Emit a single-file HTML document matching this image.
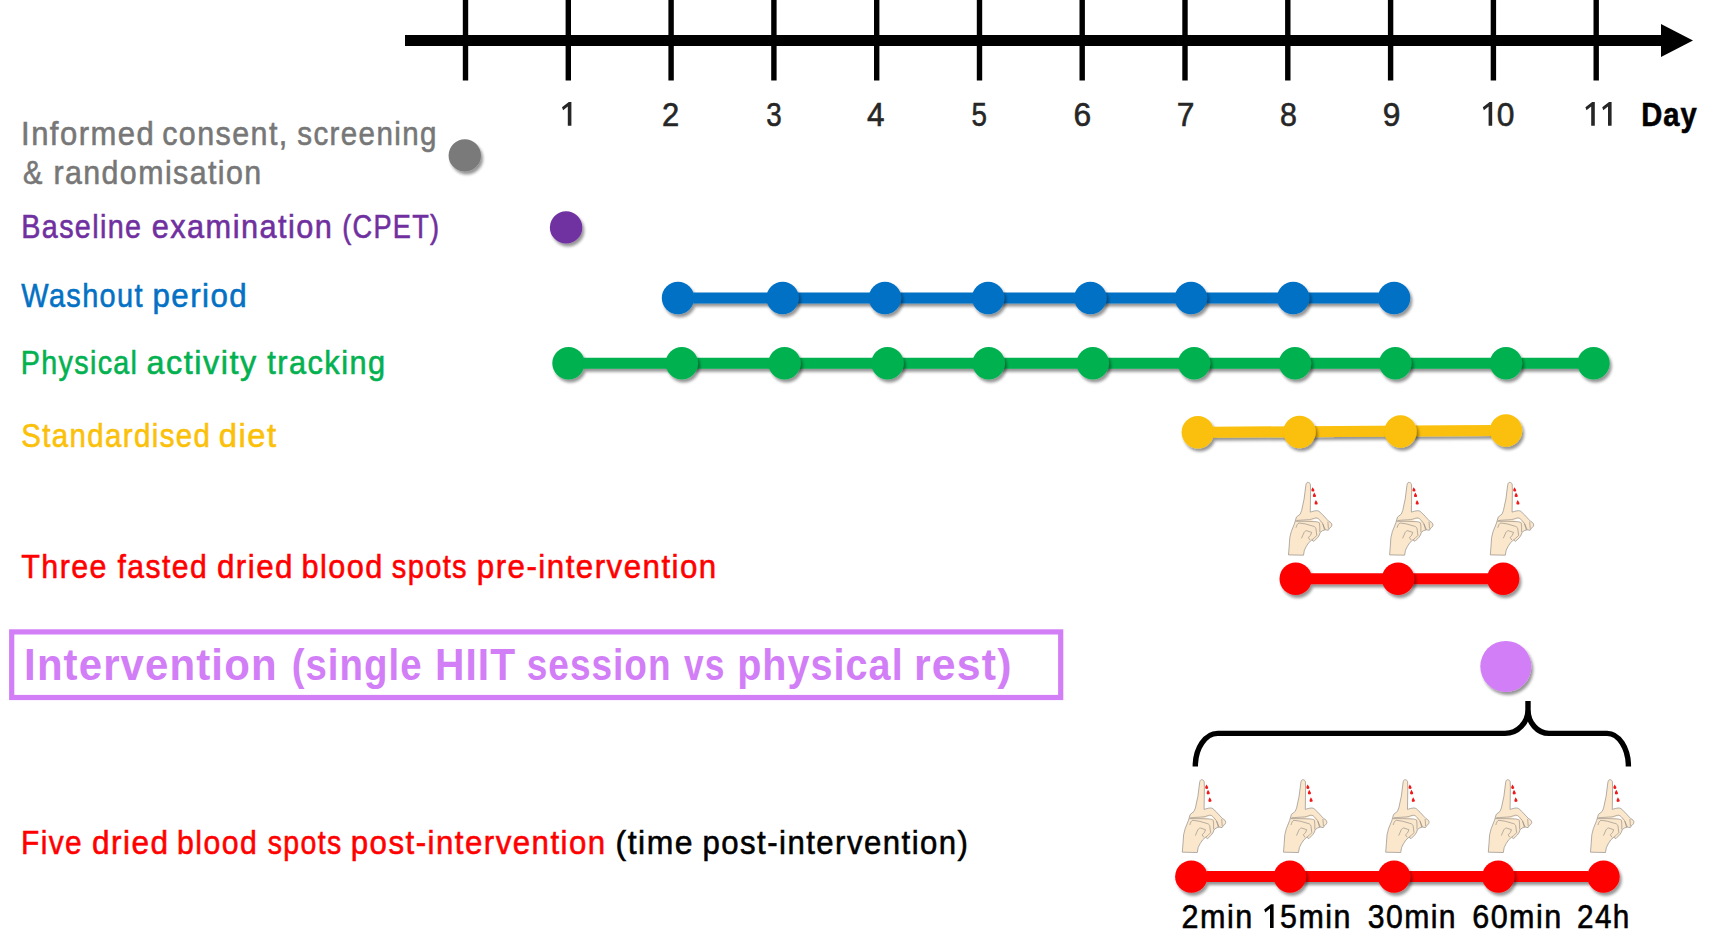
<!DOCTYPE html>
<html><head><meta charset="utf-8"><style>
html,body{margin:0;padding:0;background:#fff;}
svg{display:block;}
text{font-family:"Liberation Sans",sans-serif;}
</style></head><body>
<svg width="1713" height="940" viewBox="0 0 1713 940">
<defs>
<filter id="sh" filterUnits="userSpaceOnUse" x="0" y="0" width="1713" height="940">
<feGaussianBlur in="SourceAlpha" stdDeviation="1.4"/>
<feOffset dx="2.4" dy="2.7" result="o"/>
<feComponentTransfer><feFuncA type="linear" slope="0.42"/></feComponentTransfer>
<feMerge><feMergeNode/><feMergeNode in="SourceGraphic"/></feMerge>
</filter>
<symbol id="hand" overflow="visible">
<path d="M25.4,5.7 C26.6,5.6 27.9,6.3 28.2,7.6 L28.4,14 L28.2,28 L28.1,35.4 C29.5,35 32,34 34.6,34 C35.6,34 36.3,34.3 36.8,34.6 L40.6,38.2 L44.9,42.9 L46.6,44.6 C48.5,45.6 49.7,46.6 49.7,48.3 C49.7,49.5 48.5,51 47.4,51.4 L46.1,53.6 L43.1,53.1 L40.2,54 L38,55.7 L37.2,58.2 L35.5,60.8 L31.7,64.6 L29.5,63.3 L26.6,65.9 L24.2,69.5 L22.2,73.5 L21.3,78.5 L6.3,78.2 L7,69.3 L7.6,60.8 L9.1,54.8 L12.5,46.3 L14.2,40.4 L18,37.4 L19.4,33.9 L21.9,22.3 L23.6,8.9 C23.9,6.6 24.5,5.8 25.4,5.7 Z" fill="#fbe7cc" stroke="#8a8580" stroke-width="0.65" stroke-linejoin="round"/>
<path d="M29,43.4 C31,43 34,42 35.8,42 C36.6,42.2 37.2,43.6 37.4,45.2 L33.8,44.8 Z" fill="#fff"/>
<path d="M14.2,43.8 C18,43.4 24,43.2 27.4,42.9 C30,42.5 32.5,41.2 33.8,41.2 C35,41.2 36.5,41.8 38,43.8 L40.2,46.3 L42.3,51 L43.1,53.1 M13.4,44.6 L23.1,44.6 L33.8,45 C35.5,45.3 36.8,45.6 37.2,46.3 L37.6,50.1 L37.6,55.3 M13.8,51 C14.5,48.5 15.5,46.5 16.8,46.3 L23.1,47.2 L31.7,49.7 C33,50.3 33.6,51 33.8,52.3 L34.6,58.7 L31.7,61.6 L29.5,63.3 M19.3,61.6 L21.9,55.7 C22.5,54.8 23.5,54 24.4,54 L29.5,55.7 L28.3,58.7 L26.1,60.8 L27.8,63.3 M40.6,47.2 L42.3,53 M45.7,45 L46.2,52" fill="none" stroke="#8a8580" stroke-width="0.6" stroke-linejoin="round"/>
<path d="M30.4,10.6 L31.9,12.8 A1.45,1.45 0 1 1 29.2,13.1 Z M32,15.8 L33.5,18.2 A1.5,1.5 0 1 1 30.7,18.5 Z M33.7,23.3 L35.2,25.7 A1.5,1.5 0 1 1 32.4,26 Z" fill="#f01818"/>
</symbol>
</defs>

<rect x="405" y="35" width="1258" height="11" fill="#000"/>
<path d="M1661,24 L1693,40.5 L1661,57 Z" fill="#000"/>
<rect x="462.8" y="0" width="5.4" height="80.5" fill="#000"/>
<rect x="565.6" y="0" width="5.4" height="80.5" fill="#000"/>
<rect x="668.4" y="0" width="5.4" height="80.5" fill="#000"/>
<rect x="771.2" y="0" width="5.4" height="80.5" fill="#000"/>
<rect x="874.0" y="0" width="5.4" height="80.5" fill="#000"/>
<rect x="976.8" y="0" width="5.4" height="80.5" fill="#000"/>
<rect x="1079.5" y="0" width="5.4" height="80.5" fill="#000"/>
<rect x="1182.3" y="0" width="5.4" height="80.5" fill="#000"/>
<rect x="1285.1" y="0" width="5.4" height="80.5" fill="#000"/>
<rect x="1387.9" y="0" width="5.4" height="80.5" fill="#000"/>
<rect x="1490.7" y="0" width="5.4" height="80.5" fill="#000"/>
<rect x="1593.5" y="0" width="5.4" height="80.5" fill="#000"/>
<path d="M571.4,102.1 L571.4,125.8 L567.8,125.8 L567.8,106.4 L563.1,110.2 L562.0,107.19999999999999 L568.8,102.1 Z" fill="#262626"/>
<path d="M1492.2,102.1 L1492.2,125.8 L1488.6000000000001,125.8 L1488.6000000000001,106.4 L1483.9,110.2 L1482.8,107.19999999999999 L1489.6000000000001,102.1 Z" fill="#262626"/>
<path d="M1594.8,102.1 L1594.8,125.8 L1591.2,125.8 L1591.2,106.4 L1586.5,110.2 L1585.3999999999999,107.19999999999999 L1592.2,102.1 Z" fill="#262626"/>
<path d="M1611.6,102.1 L1611.6,125.8 L1608.0,125.8 L1608.0,106.4 L1603.3,110.2 L1602.1999999999998,107.19999999999999 L1609.0,102.1 Z" fill="#262626"/>
<path d="M1273.6,904.3 L1273.6,928 L1270.0,928 L1270.0,908.6 L1265.3,912.4 L1264.1999999999998,909.4 L1271.0,904.3 Z" fill="#000"/>
<text transform="translate(21.06,145) scale(0.9128,1)" font-size="34" letter-spacing="1.6" fill="#777777" stroke="#777777" stroke-width="0.6">Informed</text>
<text transform="translate(162.21,145) scale(0.8949,1)" font-size="34" letter-spacing="1.6" fill="#777777" stroke="#777777" stroke-width="0.6">consent,</text>
<text transform="translate(297.23,145) scale(0.8690,1)" font-size="34" letter-spacing="1.6" fill="#777777" stroke="#777777" stroke-width="0.6">screening</text>
<text transform="translate(22.95,184) scale(0.8545,1)" font-size="34" letter-spacing="1.6" fill="#777777" stroke="#777777" stroke-width="0.6">&amp;</text>
<text transform="translate(53.41,184) scale(0.8930,1)" font-size="34" letter-spacing="1.6" fill="#777777" stroke="#777777" stroke-width="0.6">randomisation</text>
<text transform="translate(21.31,237.6) scale(0.8453,1)" font-size="34" letter-spacing="1.6" fill="#7030a0" stroke="#7030a0" stroke-width="0.6">Baseline</text>
<text transform="translate(151.70,237.6) scale(0.9046,1)" font-size="34" letter-spacing="1.6" fill="#7030a0" stroke="#7030a0" stroke-width="0.6">examination</text>
<text transform="translate(342.20,237.6) scale(0.7983,1)" font-size="34" letter-spacing="1.6" fill="#7030a0" stroke="#7030a0" stroke-width="0.6">(CPET)</text>
<text transform="translate(21.30,306.9) scale(0.8510,1)" font-size="34" letter-spacing="1.6" fill="#0471c4" stroke="#0471c4" stroke-width="0.6">Washout</text>
<text transform="translate(152.46,306.9) scale(0.9202,1)" font-size="34" letter-spacing="1.6" fill="#0471c4" stroke="#0471c4" stroke-width="0.6">period</text>
<text transform="translate(20.81,373.9) scale(0.8433,1)" font-size="34" letter-spacing="1.6" fill="#04b150" stroke="#04b150" stroke-width="0.6">Physical</text>
<text transform="translate(146.55,373.9) scale(0.9518,1)" font-size="34" letter-spacing="1.6" fill="#04b150" stroke="#04b150" stroke-width="0.6">activity</text>
<text transform="translate(267.30,373.9) scale(0.9047,1)" font-size="34" letter-spacing="1.6" fill="#04b150" stroke="#04b150" stroke-width="0.6">tracking</text>
<text transform="translate(21.13,447) scale(0.8665,1)" font-size="34" letter-spacing="1.6" fill="#fbc008" stroke="#fbc008" stroke-width="0.6">Standardised</text>
<text transform="translate(218.64,447) scale(0.9644,1)" font-size="34" letter-spacing="1.6" fill="#fbc008" stroke="#fbc008" stroke-width="0.6">diet</text>
<text transform="translate(21.30,578.4) scale(0.8947,1)" font-size="34" letter-spacing="1.6" fill="#ff0000" stroke="#ff0000" stroke-width="0.6">Three</text>
<text transform="translate(117.60,578.4) scale(0.8848,1)" font-size="34" letter-spacing="1.6" fill="#ff0000" stroke="#ff0000" stroke-width="0.6">fasted</text>
<text transform="translate(216.88,578.4) scale(0.9228,1)" font-size="34" letter-spacing="1.6" fill="#ff0000" stroke="#ff0000" stroke-width="0.6">dried</text>
<text transform="translate(301.60,578.4) scale(0.9023,1)" font-size="34" letter-spacing="1.6" fill="#ff0000" stroke="#ff0000" stroke-width="0.6">blood</text>
<text transform="translate(391.75,578.4) scale(0.8547,1)" font-size="34" letter-spacing="1.6" fill="#ff0000" stroke="#ff0000" stroke-width="0.6">spots</text>
<text transform="translate(476.86,578.4) scale(0.9202,1)" font-size="34" letter-spacing="1.6" fill="#ff0000" stroke="#ff0000" stroke-width="0.6">pre-intervention</text>
<text transform="translate(24.10,679.7) scale(0.9325,1)" font-size="45" letter-spacing="1.2" fill="#d27ef7" font-weight="bold">Intervention</text>
<text transform="translate(291.69,679.7) scale(0.8530,1)" font-size="45" letter-spacing="1.2" fill="#d27ef7" font-weight="bold">(single</text>
<text transform="translate(434.99,679.7) scale(0.9047,1)" font-size="45" letter-spacing="1.2" fill="#d27ef7" font-weight="bold">HIIT</text>
<text transform="translate(526.75,679.7) scale(0.8229,1)" font-size="45" letter-spacing="1.2" fill="#d27ef7" font-weight="bold">session</text>
<text transform="translate(684.10,679.7) scale(0.7860,1)" font-size="45" letter-spacing="1.2" fill="#d27ef7" font-weight="bold">vs</text>
<text transform="translate(737.17,679.7) scale(0.8781,1)" font-size="45" letter-spacing="1.2" fill="#d27ef7" font-weight="bold">physical</text>
<text transform="translate(914.05,679.7) scale(0.9515,1)" font-size="45" letter-spacing="1.2" fill="#d27ef7" font-weight="bold">rest)</text>
<text transform="translate(21.04,854.4) scale(0.8788,1)" font-size="34" letter-spacing="1.6" fill="#ff0000" stroke="#ff0000" stroke-width="0.6">Five</text>
<text transform="translate(91.97,854.4) scale(0.9291,1)" font-size="34" letter-spacing="1.6" fill="#ff0000" stroke="#ff0000" stroke-width="0.6">dried</text>
<text transform="translate(177.12,854.4) scale(0.8895,1)" font-size="34" letter-spacing="1.6" fill="#ff0000" stroke="#ff0000" stroke-width="0.6">blood</text>
<text transform="translate(267.76,854.4) scale(0.8372,1)" font-size="34" letter-spacing="1.6" fill="#ff0000" stroke="#ff0000" stroke-width="0.6">spots</text>
<text transform="translate(350.76,854.4) scale(0.9190,1)" font-size="34" letter-spacing="1.6" fill="#ff0000" stroke="#ff0000" stroke-width="0.6">post-intervention</text>
<text transform="translate(615.62,854.4) scale(0.9392,1)" font-size="34" letter-spacing="1.6" fill="#000" stroke="#000" stroke-width="0.6">(time</text>
<text transform="translate(702.47,854.4) scale(0.9161,1)" font-size="34" letter-spacing="1.6" fill="#000" stroke="#000" stroke-width="0.6">post-intervention)</text>
<rect x="11.7" y="631.9" width="1049" height="65.6" fill="none" stroke="#d27ef7" stroke-width="5.2"/>
<circle cx="464.8" cy="155.4" r="16.2" fill="#7a7a7a" filter="url(#sh)"/>
<circle cx="566.1" cy="227.4" r="16.2" fill="#7030a0" filter="url(#sh)"/>
<circle cx="678" cy="298" r="16.2" fill="#0471c4" filter="url(#sh)"/>
<line x1="693.2" y1="298" x2="1378.8999999999999" y2="298" stroke="#0471c4" stroke-width="11" filter="url(#sh)"/>
<circle cx="782.6" cy="298" r="16.2" fill="#0471c4" filter="url(#sh)"/>
<circle cx="885" cy="298" r="16.2" fill="#0471c4" filter="url(#sh)"/>
<circle cx="988.2" cy="298" r="16.2" fill="#0471c4" filter="url(#sh)"/>
<circle cx="1090.4" cy="298" r="16.2" fill="#0471c4" filter="url(#sh)"/>
<circle cx="1191" cy="298" r="16.2" fill="#0471c4" filter="url(#sh)"/>
<circle cx="1293.2" cy="298" r="16.2" fill="#0471c4" filter="url(#sh)"/>
<circle cx="1394.1" cy="298" r="16.2" fill="#0471c4" filter="url(#sh)"/>
<circle cx="568.5" cy="363.3" r="16.2" fill="#04b150" filter="url(#sh)"/>
<line x1="583.7" y1="363.3" x2="1578.3" y2="363.3" stroke="#04b150" stroke-width="11" filter="url(#sh)"/>
<circle cx="681.8" cy="363.3" r="16.2" fill="#04b150" filter="url(#sh)"/>
<circle cx="784.5" cy="363.3" r="16.2" fill="#04b150" filter="url(#sh)"/>
<circle cx="887.5" cy="363.3" r="16.2" fill="#04b150" filter="url(#sh)"/>
<circle cx="988.7" cy="363.3" r="16.2" fill="#04b150" filter="url(#sh)"/>
<circle cx="1092.8" cy="363.3" r="16.2" fill="#04b150" filter="url(#sh)"/>
<circle cx="1194.1" cy="363.3" r="16.2" fill="#04b150" filter="url(#sh)"/>
<circle cx="1295" cy="363.3" r="16.2" fill="#04b150" filter="url(#sh)"/>
<circle cx="1395.3" cy="363.3" r="16.2" fill="#04b150" filter="url(#sh)"/>
<circle cx="1506" cy="363.3" r="16.2" fill="#04b150" filter="url(#sh)"/>
<circle cx="1593.5" cy="363.3" r="16.2" fill="#04b150" filter="url(#sh)"/>
<circle cx="1197.8" cy="432.2" r="16.2" fill="#fbc008" filter="url(#sh)"/>
<line x1="1213.0" y1="432.2" x2="1490.8" y2="430.5" stroke="#fbc008" stroke-width="11" filter="url(#sh)"/>
<circle cx="1299.5" cy="432" r="16.2" fill="#fbc008" filter="url(#sh)"/>
<circle cx="1400.5" cy="431.5" r="16.2" fill="#fbc008" filter="url(#sh)"/>
<circle cx="1506" cy="430.5" r="16.2" fill="#fbc008" filter="url(#sh)"/>
<circle cx="1295.7" cy="578.7" r="16.2" fill="#ff0000" filter="url(#sh)"/>
<line x1="1310.9" y1="578.7" x2="1488.0" y2="578.7" stroke="#ff0000" stroke-width="11" filter="url(#sh)"/>
<circle cx="1398.1" cy="578.7" r="16.2" fill="#ff0000" filter="url(#sh)"/>
<circle cx="1503.2" cy="578.7" r="16.2" fill="#ff0000" filter="url(#sh)"/>
<circle cx="1191.3" cy="876.6" r="16.2" fill="#ff0000" filter="url(#sh)"/>
<line x1="1206.5" y1="876.6" x2="1588.3" y2="876.6" stroke="#ff0000" stroke-width="11" filter="url(#sh)"/>
<circle cx="1289.9" cy="876.6" r="16.2" fill="#ff0000" filter="url(#sh)"/>
<circle cx="1394.1" cy="876.6" r="16.2" fill="#ff0000" filter="url(#sh)"/>
<circle cx="1498.3" cy="876.6" r="16.2" fill="#ff0000" filter="url(#sh)"/>
<circle cx="1603.5" cy="876.6" r="16.2" fill="#ff0000" filter="url(#sh)"/>
<circle cx="1505.8" cy="666.4" r="25.5" fill="#d27ef7" filter="url(#sh)"/>
<path d="M1195.3,766.4 A22.4,33 0 0 1 1217.7,733.4 L1505,733.4 A23,24 0 0 0 1528,709.4 L1528,701 M1528,709.4 A21,24 0 0 0 1549,733.4 L1607,733.4 A21.4,33 0 0 1 1628.4,766.4" fill="none" stroke="#000" stroke-width="5.4"/>
<use href="#hand" x="1282.2" y="476.7"/>
<use href="#hand" x="1383.3" y="476.7"/>
<use href="#hand" x="1484.0" y="476.7"/>
<use href="#hand" x="1176.0" y="774.0"/>
<use href="#hand" x="1277.2" y="774.0"/>
<use href="#hand" x="1379.4" y="774.0"/>
<use href="#hand" x="1482.0" y="774.0"/>
<use href="#hand" x="1584.2" y="774.0"/>
<text transform="translate(1496.66,125.8) scale(0.9353,1)" font-size="34" letter-spacing="1.6" fill="#262626" stroke="#262626" stroke-width="0.6">0</text>
<text transform="translate(661.99,125.8) scale(0.9118,1)" font-size="34" letter-spacing="1.6" fill="#262626" stroke="#262626" stroke-width="0.6">2</text>
<text transform="translate(766.28,125.8) scale(0.8176,1)" font-size="34" letter-spacing="1.6" fill="#262626" stroke="#262626" stroke-width="0.6">3</text>
<text transform="translate(867.00,125.8) scale(0.9278,1)" font-size="34" letter-spacing="1.6" fill="#262626" stroke="#262626" stroke-width="0.6">4</text>
<text transform="translate(971.38,125.8) scale(0.8176,1)" font-size="34" letter-spacing="1.6" fill="#262626" stroke="#262626" stroke-width="0.6">5</text>
<text transform="translate(1073.56,125.8) scale(0.9353,1)" font-size="34" letter-spacing="1.6" fill="#262626" stroke="#262626" stroke-width="0.6">6</text>
<text transform="translate(1176.76,125.8) scale(0.9353,1)" font-size="34" letter-spacing="1.6" fill="#262626" stroke="#262626" stroke-width="0.6">7</text>
<text transform="translate(1280.11,125.8) scale(0.8941,1)" font-size="34" letter-spacing="1.6" fill="#262626" stroke="#262626" stroke-width="0.6">8</text>
<text transform="translate(1382.66,125.8) scale(0.9353,1)" font-size="34" letter-spacing="1.6" fill="#262626" stroke="#262626" stroke-width="0.6">9</text>
<text transform="translate(1181.60,928) scale(0.8987,1)" font-size="34" letter-spacing="1.6" fill="#000" stroke="#000" stroke-width="0.6">2min</text>
<text transform="translate(1280.11,928) scale(0.8947,1)" font-size="34" letter-spacing="1.6" fill="#000" stroke="#000" stroke-width="0.6">5min</text>
<text transform="translate(1367.81,928) scale(0.8875,1)" font-size="34" letter-spacing="1.6" fill="#000" stroke="#000" stroke-width="0.6">30min</text>
<text transform="translate(1472.30,928) scale(0.8979,1)" font-size="34" letter-spacing="1.6" fill="#000" stroke="#000" stroke-width="0.6">60min</text>
<text transform="translate(1577.03,928) scale(0.8737,1)" font-size="34" letter-spacing="1.6" fill="#000" stroke="#000" stroke-width="0.6">24h</text>
<text transform="translate(1641.29,125.9) scale(0.8571,1)" font-size="34" letter-spacing="1.2" fill="#000" stroke="#000" stroke-width="0.6" font-weight="bold">Day</text>
</svg></body></html>
